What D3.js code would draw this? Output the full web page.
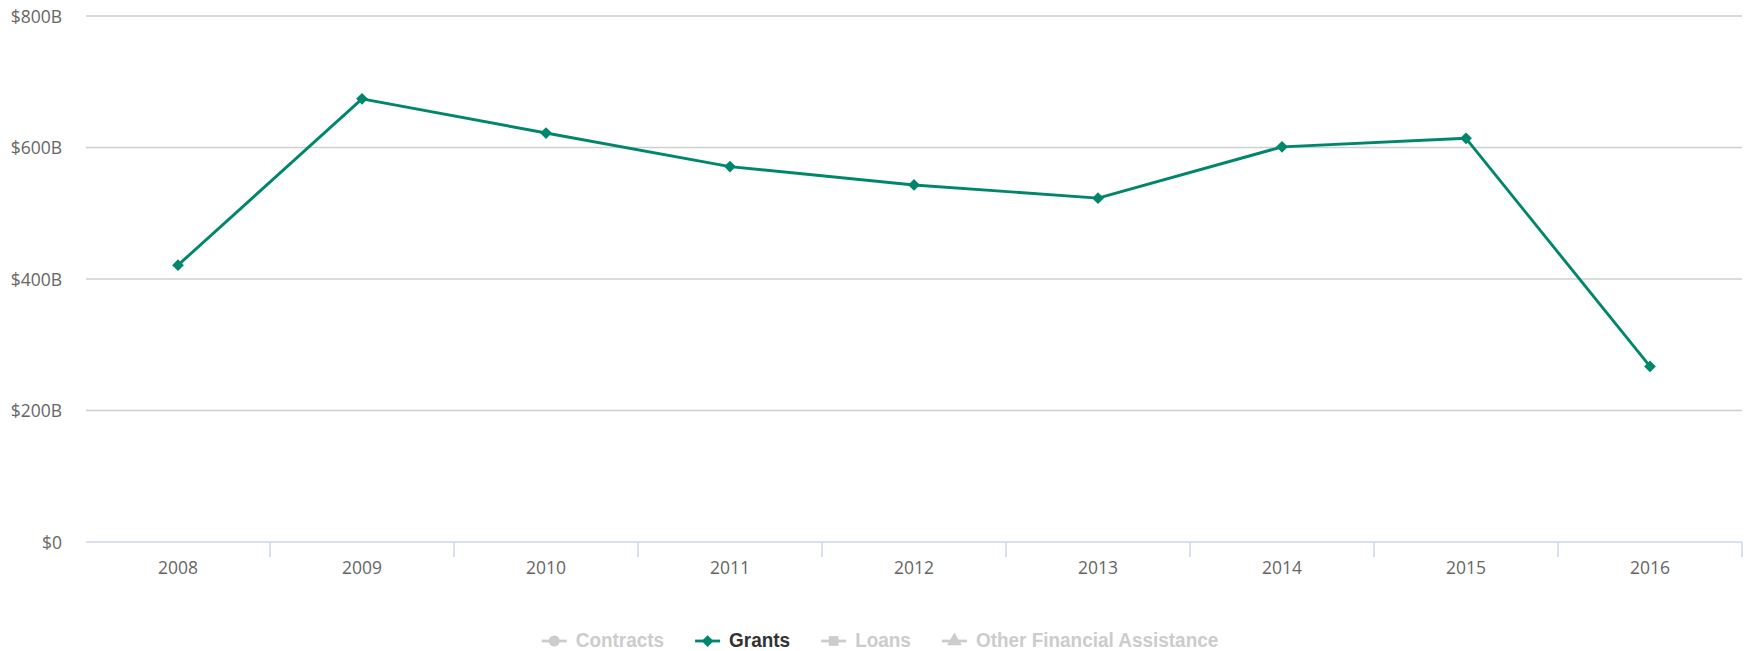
<!DOCTYPE html>
<html>
<head>
<meta charset="utf-8">
<script src="https://cdn.jsdelivr.net/npm/d3@7"></script>
<style>
  html, body { margin: 0; padding: 0; background: #fff; }
  svg { display: block; }
</style>
</head>
<body>
<svg id="chart" width="1746" height="651"></svg>
<script>
// ---- data ----
const years = ["2008", "2009", "2010", "2011", "2012", "2013", "2014", "2015", "2016"];
const grants = [421, 674, 622, 571, 543, 523, 601, 614, 267]; // $ billions
const yTicks = [0, 200, 400, 600, 800];
const legendItems = ["Contracts", "Grants", "Loans", "Other Financial Assistance"];
const legendSymbols = ["circle", "diamond", "square", "triangle"];
const legendActive = [false, true, false, false];

// ---- layout ----
const plotLeft = 86, plotRight = 1742, plotTop = 16, plotBottom = 542;
const lineColor = "#00876b";
const svg = d3.select("#chart");

const x = d3.scaleBand().domain(years).range([plotLeft, plotRight]);
const y = d3.scaleLinear().domain([0, 800]).range([plotBottom, plotTop]);

// gridlines
svg.append("g")
  .selectAll("line")
  .data(yTicks.filter(d => d > 0))
  .join("line")
  .attr("x1", plotLeft).attr("x2", plotRight)
  .attr("y1", d => y(d)).attr("y2", d => y(d))
  .attr("stroke", "#cfcfcf").attr("stroke-width", 1.5);

// y axis labels
const fmt = d => d === 0 ? "$0" : "$" + d + "B";
svg.append("g")
  .selectAll("text")
  .data(yTicks)
  .join("text")
  .attr("x", 62).attr("y", d => y(d))
  .attr("dy", "0.38em")
  .attr("text-anchor", "end")
  .attr("font-family", "'Open Sans', sans-serif")
  .attr("font-size", 17.5)
  .attr("fill", "#666")
  .text(fmt);

// x axis line
svg.append("line")
  .attr("x1", plotLeft).attr("x2", plotRight)
  .attr("y1", y(0)).attr("y2", y(0))
  .attr("stroke", "#ccd6eb").attr("stroke-width", 1.5);

// ticks at category boundaries
const boundaries = years.slice(1).map(d => x(d)).concat([plotRight]);
svg.append("g")
  .selectAll("line")
  .data(boundaries)
  .join("line")
  .attr("x1", d => d).attr("x2", d => d)
  .attr("y1", y(0)).attr("y2", y(0) + 15)
  .attr("stroke", "#ccd6eb").attr("stroke-width", 1.5);

// x labels
svg.append("g")
  .selectAll("text")
  .data(years)
  .join("text")
  .attr("x", d => x(d) + x.bandwidth() / 2)
  .attr("y", 574)
  .attr("text-anchor", "middle")
  .attr("font-family", "'Open Sans', sans-serif")
  .attr("font-size", 17.5)
  .attr("fill", "#666")
  .text(d => d);

// line
const cx = (d, i) => x(years[i]) + x.bandwidth() / 2;
svg.append("path")
  .datum(grants)
  .attr("d", d3.line().x(cx).y(d => y(d)))
  .attr("fill", "none")
  .attr("stroke", lineColor)
  .attr("stroke-width", 2.9)
  .attr("stroke-linejoin", "round");

const diamond = d3.symbol().type(d3.symbolDiamond2).size(88);
svg.append("g")
  .selectAll("path")
  .data(grants)
  .join("path")
  .attr("transform", (d, i) => `translate(${cx(d, i)},${y(d)})`)
  .attr("d", diamond)
  .attr("fill", lineColor);

// legend
const symbolTypes = {
  circle: d3.symbolCircle,
  diamond: d3.symbolDiamond2,
  square: d3.symbolSquare,
  triangle: d3.symbolTriangle
};
const legend = svg.append("g");
const legendFont = "'Liberation Sans', Arial, sans-serif";
const legendSize = 20;
const symW = 25, gapST = 9, gapItem = 31, legY = 641;

// condense the legend text horizontally (reference uses a narrow face)
const probe = svg.append("text")
  .attr("font-family", legendFont).attr("font-weight", "bold").attr("font-size", legendSize)
  .text(legendItems[3]);
const squeeze = 242.5 / probe.node().getComputedTextLength();
probe.remove();

let cursor = 0;
legendItems.forEach((name, i) => {
  const g = legend.append("g");
  const col = legendActive[i] ? lineColor : "#cccccc";
  g.append("line")
    .attr("x1", 0).attr("x2", symW)
    .attr("y1", 0).attr("y2", 0)
    .attr("stroke", col).attr("stroke-width", 2.8);
  g.append("path")
    .attr("transform", `translate(${symW / 2},0)`)
    .attr("d", d3.symbol().type(symbolTypes[legendSymbols[i]]).size(legendSymbols[i] === "diamond" ? 88 : 95)())
    .attr("fill", col);
  const t = g.append("text")
    .attr("transform", `translate(${symW + gapST},5.5) scale(${squeeze},1)`)
    .attr("font-family", legendFont)
    .attr("font-weight", "bold")
    .attr("font-size", legendSize)
    .attr("fill", legendActive[i] ? "#333333" : "#cccccc")
    .text(name);
  const w = symW + gapST + t.node().getComputedTextLength() * squeeze;
  g.attr("transform", `translate(${cursor},${legY})`);
  cursor += w + gapItem;
});
const total = cursor - gapItem;
legend.attr("transform", `translate(${880 - total / 2},0)`);
</script>
</body>
</html>
